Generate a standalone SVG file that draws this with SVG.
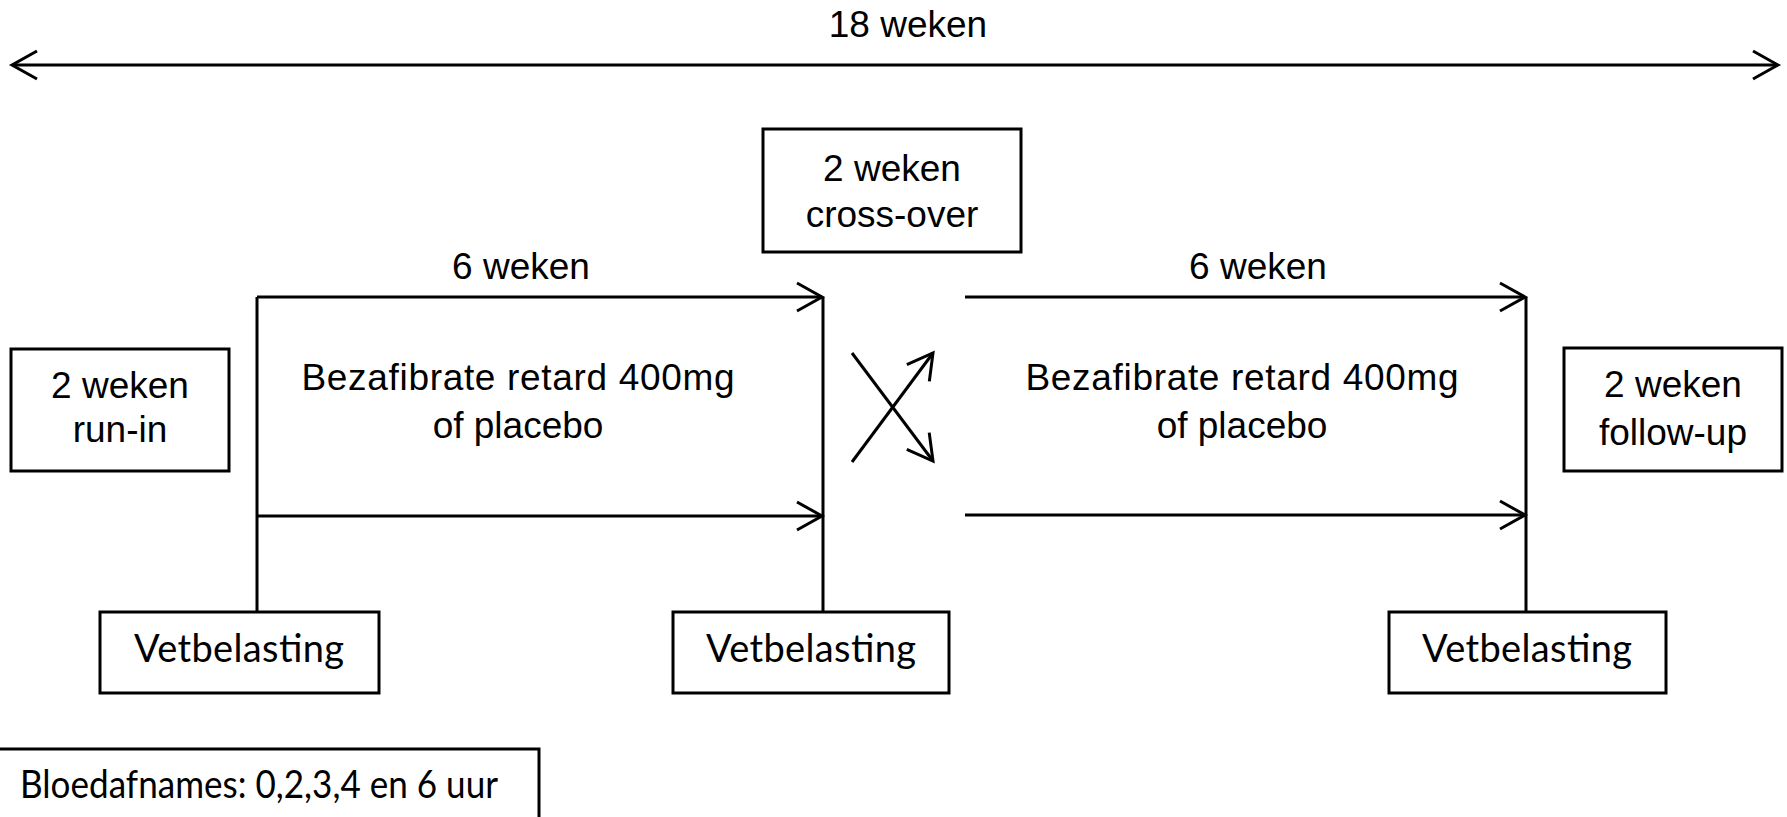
<svg xmlns="http://www.w3.org/2000/svg" width="1787" height="817" viewBox="0 0 1787 817">
<style>
.box{fill:#fff;stroke:#000;stroke-width:3}
.ln{fill:none;stroke:#000;stroke-width:3}
.a{font-family:"Liberation Sans",Arial,sans-serif;font-size:37px;fill:#000;text-anchor:middle}
.c{font-family:Lato,"Open Sans",sans-serif;font-size:38px;fill:#000;text-anchor:middle}
</style>
<defs>
<marker id="ah" markerUnits="userSpaceOnUse" markerWidth="40" markerHeight="40" viewBox="-30 -20 40 40" refX="0" refY="0" orient="auto-start-reverse">
<path d="M-25,-14 L0,0 L-25,14" fill="none" stroke="#000" stroke-width="3"/>
</marker>
</defs>
<rect width="1787" height="817" fill="#fff"/>
<g id="connectors">
<line class="ln" x1="12" y1="65" x2="1778" y2="65" marker-start="url(#ah)" marker-end="url(#ah)"/>
<line class="ln" x1="257" y1="297" x2="257" y2="612"/>
<line class="ln" x1="257" y1="297" x2="822" y2="297" marker-end="url(#ah)"/>
<line class="ln" x1="257" y1="516" x2="822" y2="516" marker-end="url(#ah)"/>
<line class="ln" x1="823" y1="297" x2="823" y2="612"/>
<line class="ln" x1="852" y1="353" x2="933" y2="461" marker-end="url(#ah)"/>
<line class="ln" x1="852" y1="462" x2="933" y2="353" marker-end="url(#ah)"/>
<line class="ln" x1="965" y1="297" x2="1525" y2="297" marker-end="url(#ah)"/>
<line class="ln" x1="965" y1="515" x2="1525" y2="515" marker-end="url(#ah)"/>
<line class="ln" x1="1526" y1="297" x2="1526" y2="612"/>
</g>
<g id="label-18weken"><text class="a" x="908" y="37">18 weken</text></g>
<g id="label-6weken-1"><text class="a" x="521" y="279">6 weken</text></g>
<g id="label-6weken-2"><text class="a" x="1258" y="279">6 weken</text></g>
<g id="runin">
<rect class="box" x="11" y="349" width="218" height="122"/>
<text class="a" x="120" y="398">2 weken</text>
<text class="a" x="120" y="442">run-in</text>
</g>
<g id="crossover">
<rect class="box" x="763" y="129" width="258" height="123"/>
<text class="a" x="892" y="181">2 weken</text>
<text class="a" x="892" y="227">cross-over</text>
</g>
<g id="treatment1">
<text class="a" x="518" y="390" textLength="433">Bezafibrate retard 400mg</text>
<text class="a" x="518" y="438">of placebo</text>
</g>
<g id="treatment2">
<text class="a" x="1242" y="390" textLength="433">Bezafibrate retard 400mg</text>
<text class="a" x="1242" y="438">of placebo</text>
</g>
<g id="followup">
<rect class="box" x="1564" y="348" width="218" height="123"/>
<text class="a" x="1673" y="397">2 weken</text>
<text class="a" x="1673" y="445">follow-up</text>
</g>
<g id="vet1">
<rect class="box" x="100" y="612" width="279" height="81"/>
<text class="c" x="239" y="662" textLength="210">Vetbelasting</text>
</g>
<g id="vet2">
<rect class="box" x="673" y="612" width="276" height="81"/>
<text class="c" x="811" y="662" textLength="210">Vetbelasting</text>
</g>
<g id="vet3">
<rect class="box" x="1389" y="612" width="277" height="81"/>
<text class="c" x="1527" y="662" textLength="210">Vetbelasting</text>
</g>
<g id="bloed">
<rect class="box" x="-2" y="749" width="541" height="80"/>
<text class="c" x="20" y="798" style="text-anchor:start" textLength="478" lengthAdjust="spacingAndGlyphs">Bloedafnames: 0,2,3,4 en 6 uur</text>
</g>
</svg>
